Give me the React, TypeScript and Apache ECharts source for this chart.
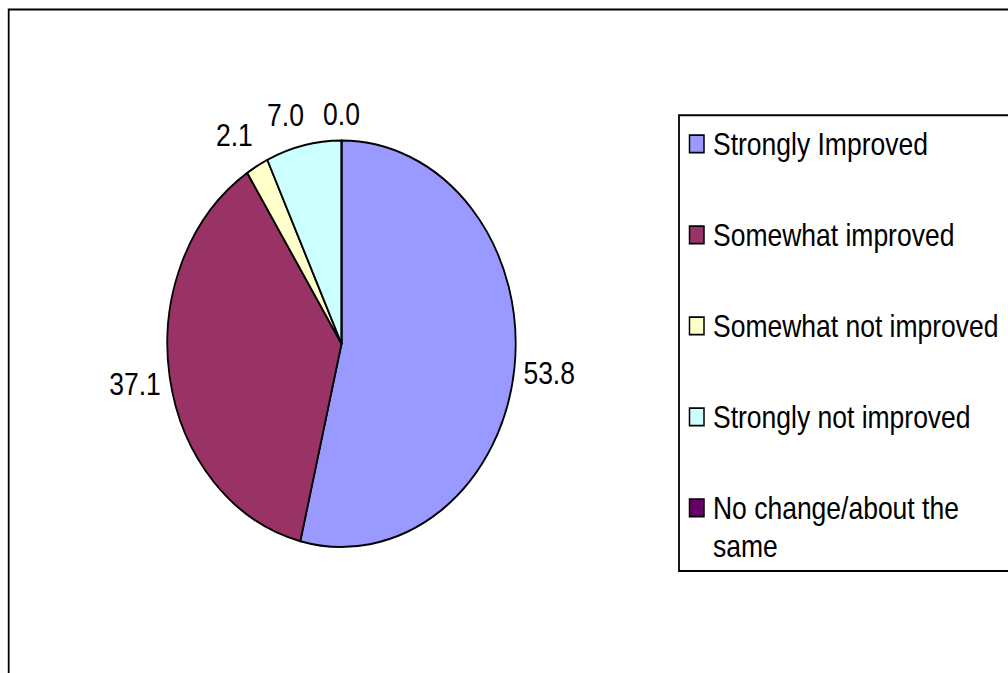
import React, { useEffect, useRef } from "react";
import * as echarts from "echarts";

const categories = [
  "Strongly Improved",
  "Somewhat improved",
  "Somewhat not improved",
  "Strongly not improved",
  "No change/about the same",
];
const values = [53.8, 37.1, 2.1, 7.0, 0.0];
const colors = ["#9999FF", "#993366", "#FFFFCC", "#CCFFFF", "#660066"];

const W = 1008;
const H = 577;
const SCALE_Y = 673 / 577;
const FONT = "'Liberation Sans', Arial, sans-serif";
const FS = 26.5;

const CX = 341.5;
const CY = 294.7;
const R = 174.2;
const GAP = 9;

export default function App() {
  const ref = useRef<HTMLDivElement>(null);

  useEffect(() => {
    if (!ref.current) return;
    const chart = echarts.init(ref.current, undefined, { renderer: "svg" });

    const total = values.reduce((a, b) => a + b, 0);
    const mids: number[] = [];
    let cum = 0;
    values.forEach((v) => {
      mids.push(((cum + v / 2) / total) * Math.PI * 2);
      cum += v;
    });

    const legendX = 679;
    const legendTop = 98.8;
    const legendBottom = 489.6;
    const firstY = 123.3;
    const step = 78.05;
    const lh = 32.6;

    const graphics: any[] = [
      {
        type: "rect",
        shape: { x: 8.7, y: 8.1, width: 1200, height: 800 },
        style: { fill: "none", stroke: "#000", lineWidth: 1.8 },
        silent: true,
        z: 10,
      },
      {
        type: "rect",
        shape: { x: legendX, y: legendTop, width: 500, height: legendBottom - legendTop },
        style: { fill: "#fff", stroke: "#000", lineWidth: 1.8 },
        silent: true,
        z: 11,
      },
    ];
    categories.forEach((name, i) => {
      const cy = firstY + i * step;
      graphics.push({
        type: "rect",
        shape: { x: 689.5, y: cy - 7.5, width: 14.5, height: 15 },
        style: { fill: colors[i], stroke: "#000", lineWidth: 1.5 },
        silent: true,
        z: 12,
      });
      graphics.push({
        type: "text",
        x: 713,
        y: cy - lh / 2,
        style: {
          text: name,
          fill: "#000",
          fontSize: FS,
          fontFamily: FONT,
          verticalAlign: "top",
          align: "left",
          lineHeight: lh,
          width: 292,
          overflow: "break",
        },
        silent: true,
        z: 12,
      });
    });

    chart.setOption({
      animation: false,
      backgroundColor: "#fff",
      graphic: { elements: graphics },
      series: [
        {
          type: "pie",
          center: [CX, CY],
          radius: R,
          startAngle: 90,
          clockwise: true,
          avoidLabelOverlap: false,
          silent: true,
          emphasis: { disabled: true },
          label: {
            show: true,
            position: "outside",
            formatter: (p: any) => Number(p.value).toFixed(1),
            fontSize: FS,
            fontFamily: FONT,
            color: "#000",
          },
          labelLine: { show: false },
          labelLayout: (p: any) => {
            const a = mids[p.dataIndex];
            const ux = Math.sin(a);
            const uy = -Math.cos(a);
            const w = p.labelRect.width;
            const h = p.labelRect.height;
            const side = Math.max(-1, Math.min(1, ux * 4));
            const x = CX + ux * (R + GAP) + side * (w / 2);
            const d = R + GAP + Math.abs(ux) * (w / 2) + Math.abs(uy) * (h / 2);
            return {
              x,
              y: CY + uy * d,
              align: "center",
              verticalAlign: "middle",
            };
          },
          itemStyle: { borderColor: "#000", borderWidth: 1.8 },
          data: categories.map((name, i) => ({
            name,
            value: values[i],
            itemStyle: { color: colors[i] },
          })),
        },
      ],
    });

    return () => chart.dispose();
  }, []);

  return (
    <div
      ref={ref}
      style={{
        position: "absolute",
        left: 0,
        top: 0,
        width: W,
        height: H,
        transform: `scale(1, ${SCALE_Y})`,
        transformOrigin: "0 0",
      }}
    />
  );
}
